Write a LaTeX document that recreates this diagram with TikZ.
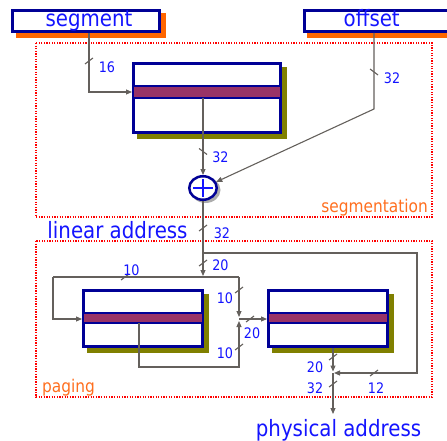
\documentclass[tikz,border=0pt]{standalone}
\usepackage{fontspec}
\usetikzlibrary{arrows.meta,shapes.geometric}
\newfontfamily\diagfont[FakeStretch=0.88]{DejaVu Sans}
\definecolor{navy}{RGB}{0,0,150}
\definecolor{txtblue}{RGB}{20,20,255}
\definecolor{shadoworange}{RGB}{255,102,0}
\definecolor{labelorange}{RGB}{255,110,30}
\definecolor{bandpurple}{RGB}{153,51,102}
\definecolor{shadowolive}{RGB}{128,128,0}
\definecolor{wirecol}{RGB}{100,96,92}
\definecolor{regionred}{RGB}{255,0,0}
\newcommand\fwdtick[1]{\draw[slash] #1 ++(-4,3) -- ++(8,-6);}
\newcommand\backtick[1]{\draw[slash] #1 ++(-4,-3) -- ++(8,6);}
\begin{document}
\begin{tikzpicture}[x=1pt,y=-1pt,
  bigtext/.style={font=\diagfont\fontsize{22.5}{26}\selectfont, text=txtblue, inner sep=0pt},
  width label/.style={font=\diagfont\fontsize{14.5}{17}\selectfont, text=txtblue, inner sep=0pt, anchor=base},
  region label/.style={font=\diagfont\fontsize{17.5}{20}\selectfont, text=labelorange, inner sep=0pt},
  region/.style={draw=regionred, line width=1.1pt, dash pattern=on 1.3pt off 1.3pt},
  namebox/.style={bigtext, draw=navy, line width=3pt, fill=white, minimum height=21pt,
    text height=16pt, text depth=4.6pt},
  tablebox/.style={draw=navy, line width=3pt, fill=white, inner sep=0pt},
  band/.style={fill=bandpurple, draw=navy, line width=1.5pt},
  adderbox/.style={ellipse, draw=navy, line width=2.5pt, fill=white, inner sep=0pt,
    minimum width=27.5pt, minimum height=23.5pt},
  wire/.style={draw=wirecol, line width=1.1pt},
  arrow/.style={wire, -{Triangle[length=6pt,width=5pt]}},
  slash/.style={draw=wirecol, line width=1.1pt},
]
\useasboundingbox (0,0) rectangle (447,441);

% regions
\draw[region] (36,43) rectangle (432,217);
\draw[region] (36,241) rectangle (432,397);
\node[region label, anchor=base east] (seglabel) at (428,212) {segmentation};
\node[region label, anchor=base west] (paglabel) at (42,392) {paging};

% address inputs
\fill[shadoworange] (15.5,13.5) rectangle (165.5,38);
\node[namebox, minimum width=147pt] (seg) at (86,21) {\hspace*{6pt}segment};
\fill[shadoworange] (307,13.5) rectangle (455,38);
\node[namebox, minimum width=145pt] (off) at (377,21) {offset\hspace*{10.5pt}};

% segment descriptor table
\fill[shadowolive] (137,67) rectangle (287,139);
\node[tablebox, minimum width=147pt, minimum height=69pt] (desc) at (207,98) {};
\draw[band] (133.5,86) rectangle (280.5,98);

% adder
\fill[gray!65] (205.5,190) ellipse [x radius=15pt, y radius=13pt];
\node[adderbox] (adder) at (203,188) {};
\draw[txtblue, line width=2.6pt] ([xshift=-10pt]adder.center) -- ([xshift=10pt]adder.center);
\draw[txtblue, line width=2.6pt] ([yshift=9pt]adder.center) -- ([yshift=-9pt]adder.center);

% page directory and page table
\fill[shadowolive] (87,294) rectangle (209,352.5);
\node[tablebox, minimum width=119pt, minimum height=56pt] (dir) at (143,318.5) {};
\draw[band] (83.5,313) rectangle (202.5,323);
\fill[shadowolive] (272,294) rectangle (394,352.5);
\node[tablebox, minimum width=119pt, minimum height=56pt] (pt) at (328,318.5) {};
\draw[band] (268.5,313) rectangle (387.5,323);

% junction points
\coordinate (segturn) at (89,92);
\coordinate (offturn) at (374,109);
\coordinate (descout) at (203,98);
\coordinate (branch) at (203,253);
\coordinate (dirin) at (203,276);
\coordinate (busL) at (53,277);
\coordinate (busR) at (239,277);
\coordinate (join) at (239,319);
\coordinate (dirout) at (139,323);
\coordinate (busB) at (239,367);
\coordinate (loopNE) at (417,253);
\coordinate (loopSE) at (417,373);
\coordinate (merge) at (333,373);
\coordinate (phys) at (333,414);

% segmentation wires
\draw[arrow] (segturn |- seg.south) -- (segturn) -- (desc.west |- segturn);
\draw[arrow] (offturn |- off.south) -- (offturn) -- (adder);
\draw[arrow] (descout) -- (adder);

% linear address wires
\draw[arrow] (adder) -- (dirin);
\draw[arrow] (branch) -- (loopNE) -- (loopSE) -- ([xshift=1pt]merge);
\draw[wire] (busL) -- (busR);
\draw[arrow] (busL) -- (busL |- join) -- (dir.west |- join);
\draw[arrow] (busR) -- ([yshift=2pt]join);
\draw[arrow] (dirout) -- (dirout |- busB) -- (busB) -- ([yshift=-2pt]join);
\draw[arrow] (join) -- (pt.west |- join);
\draw[arrow] (merge |- pt.south) -- ([yshift=1.5pt]merge);
\draw[arrow] (merge) -- (phys);

% width marks
\fwdtick{(89,61)}
\backtick{(374,72)}
\backtick{(203,151.5)}
\fwdtick{(203,228)}
\fwdtick{(203,263)}
\fwdtick{(125,277)}
\fwdtick{(239,290)}
\fwdtick{(250,319)}
\fwdtick{(239,347)}
\fwdtick{(333,357)}
\fwdtick{(333,384)}
\fwdtick{(374,373)}

\node[width label] (w16) at (107,73) {16};
\node[width label] (woff) at (392,84) {32};
\node[width label] (wdesc) at (220.5,162) {32};
\node[width label] (wlin) at (222,238) {32};
\node[width label] (wdirpt) at (220.5,270) {20};
\node[width label] (wdir) at (131.5,275) {10};
\node[width label] (wtab1) at (225,303) {10};
\node[width label] (wtab2) at (252,338) {20};
\node[width label] (wtab3) at (225,358) {10};
\node[width label] (wframe) at (315,372) {20};
\node[width label] (wphys) at (315,393) {32};
\node[width label] (wofs) at (376,393) {12};

% address names
\node[bigtext, anchor=base] (linlabel) at (117.5,238) {linear address};
\node[bigtext, anchor=base] (physlabel) at (338.5,436) {physical address};
\end{tikzpicture}
\end{document}
